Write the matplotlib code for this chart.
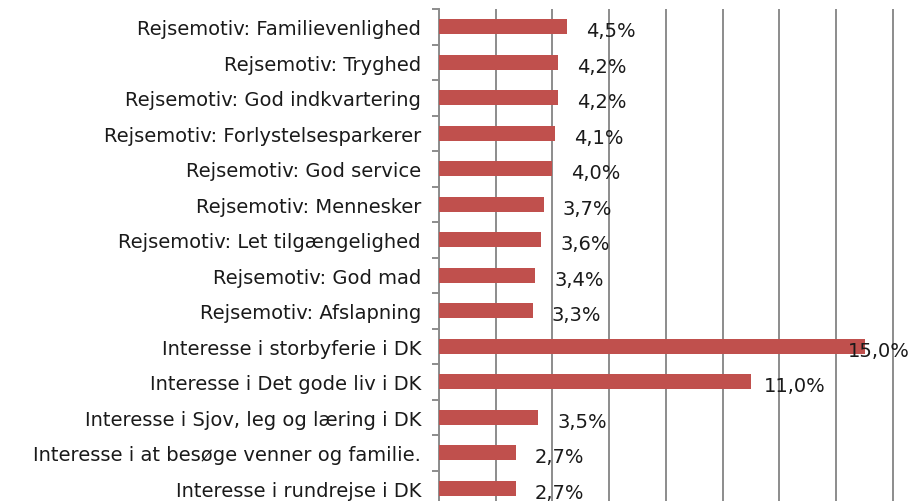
import matplotlib.pyplot as plt
import numpy as np

# kategorier (top til bund) og andele i procent
categories = ['Rejsemotiv: Familievenlighed', 'Rejsemotiv: Tryghed',
              'Rejsemotiv: God indkvartering', 'Rejsemotiv: Forlystelsesparkerer',
              'Rejsemotiv: God service', 'Rejsemotiv: Mennesker',
              'Rejsemotiv: Let tilgængelighed', 'Rejsemotiv: God mad',
              'Rejsemotiv: Afslapning', 'Interesse i storbyferie i DK',
              'Interesse i Det gode liv i DK', 'Interesse i Sjov, leg og læring i DK',
              'Interesse i at besøge venner og familie.', 'Interesse i rundrejse i DK']
values = [4.5, 4.2, 4.2, 4.1, 4.0, 3.7, 3.6, 3.4, 3.3, 15.0, 11.0, 3.5, 2.7, 2.7]
labels = ['{:.1f}%'.format(v).replace('.', ',') for v in values]

plt.rcParams['font.family'] = ['DejaVu Sans']
fig = plt.figure(figsize=(9.2, 5.02), dpi=100)
ax = fig.add_axes([439 / 920, -5 / 502, (16.1 * 28.375) / 920, 497 / 502])

y = np.arange(len(categories))
ax.barh(y, values, height=0.41, color='#C0504D', zorder=3)

# dataetiketter
for yi, v, lab in zip(y, values, labels):
    off = 10 if v > 14 else 31.5
    ax.annotate(lab, (v, yi), xytext=(off, -3), textcoords='offset points',
                ha='center', va='center', fontsize=14, color='#1a1a1a', zorder=4)

ax.set_xlim(0, 16.1)
ax.set_ylim(len(categories) - 0.5, -0.5)
ax.set_xticks(np.arange(0, 17, 2))
ax.tick_params(axis='x', length=0, labelbottom=False)
ax.grid(axis='x', color='#8c8c8c', linewidth=1.4, zorder=0)

ax.set_yticks(y)
ax.set_yticklabels(categories, fontsize=14, color='#1a1a1a')
ax.set_yticks(np.arange(-0.5, len(categories), 1), minor=True)
ax.tick_params(axis='y', which='major', length=0, pad=13)
ax.tick_params(axis='y', which='minor', length=5, width=1.4, color='#8c8c8c')

for s in ['top', 'right', 'bottom']:
    ax.spines[s].set_visible(False)
ax.spines['left'].set_color('#8c8c8c')
ax.spines['left'].set_linewidth(1.4)

fig.savefig('out.png', dpi=100)
